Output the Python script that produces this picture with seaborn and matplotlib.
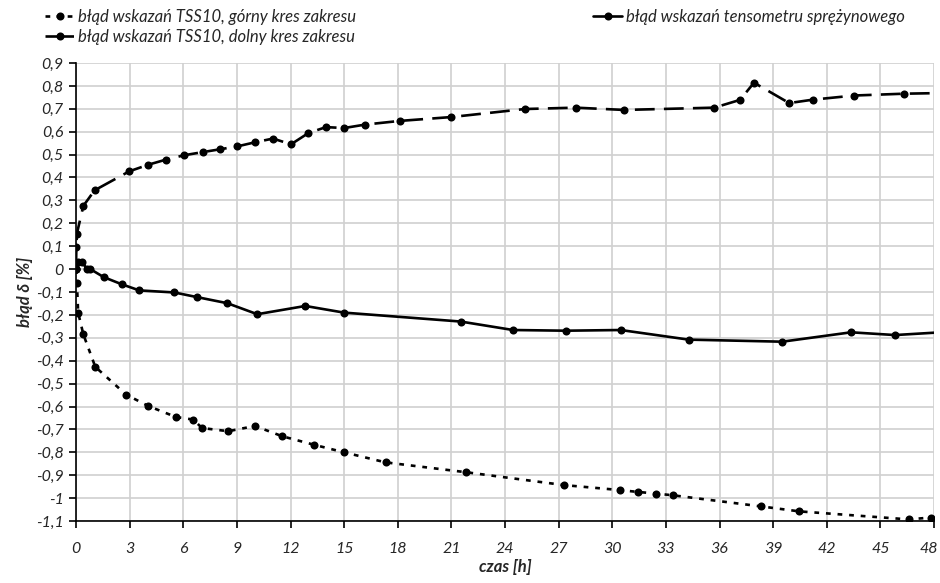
import numpy as np
import pandas as pd
import matplotlib
matplotlib.use("Agg")
import matplotlib.pyplot as plt
import matplotlib.transforms as mtransforms
import seaborn as sns
from matplotlib.ticker import FuncFormatter

# --- data ---
label_gorny = "błąd wskazań TSS10, górny kres zakresu"
label_dolny = "błąd wskazań TSS10, dolny kres zakresu"
label_tens = "błąd wskazań tensometru sprężynowego"

t_gorny = [0, 0.05, 0.12, 0.41, 1.08, 2.8, 4.05, 5.59, 6.56, 7.05, 8.52, 10.01, 11.54,
           13.31, 14.99, 17.32, 21.82, 27.28, 30.43, 31.42, 32.43, 33.42, 38.3, 40.47,
           46.58, 47.81]
y_gorny = [0, -0.06, -0.19, -0.285, -0.427, -0.548, -0.598, -0.646, -0.657, -0.694, -0.708,
           -0.685, -0.730, -0.767, -0.800, -0.844, -0.887, -0.943, -0.965, -0.973, -0.980,
           -0.988, -1.036, -1.058, -1.093, -1.085]

t_dolny = [0, 0.02, 0.05, 0.41, 1.04, 2.98, 4.05, 5.03, 6.04, 7.1, 8.04, 9.03, 10.03, 11.02,
           12.03, 13.0, 13.98, 15.0, 16.17, 18.1, 21.0, 25.1, 27.95, 30.67, 35.71, 37.15,
           37.93, 39.9, 41.23, 43.54, 46.34, 48.6]
y_dolny = [0, 0.097, 0.155, 0.276, 0.344, 0.427, 0.456, 0.478, 0.497, 0.511, 0.523, 0.536,
           0.554, 0.570, 0.545, 0.594, 0.620, 0.616, 0.631, 0.647, 0.664, 0.699, 0.705,
           0.695, 0.705, 0.739, 0.814, 0.725, 0.740, 0.758, 0.766, 0.769]

t_tens = [0, 0.1, 0.35, 0.6, 0.8, 1.55, 2.55, 3.54, 5.5, 6.75, 8.47, 10.14, 12.83, 14.99,
          21.52, 24.45, 27.4, 30.47, 34.28, 39.51, 43.36, 45.82, 48.6]
y_tens = [0, 0.033, 0.033, 0.0, 0.0, -0.035, -0.066, -0.093, -0.102, -0.122, -0.149, -0.197,
          -0.161, -0.190, -0.229, -0.266, -0.269, -0.266, -0.308, -0.317, -0.276, -0.288,
          -0.275]

x_ticks = list(range(0, 49, 3))
y_ticks = [round(v, 1) for v in np.arange(-1.1, 0.95, 0.1)]

# --- style ---
sns.set_style("white")
plt.rcParams['font.family'] = ['Lato', 'DejaVu Sans']

fig = plt.figure(figsize=(9.4, 5.83), dpi=100)
ax = fig.add_axes([76 / 940, 1 - 521 / 583, (934 - 76) / 940, (521 - 63) / 583])

lw = 1.9
ms = 5.8
d_g = pd.DataFrame({"t": t_gorny, "y": y_gorny})
d_d = pd.DataFrame({"t": t_dolny, "y": y_dolny})
d_t = pd.DataFrame({"t": t_tens, "y": y_tens})

sns.lineplot(data=d_g, x="t", y="y", ax=ax, sort=False, estimator=None, color="black",
             lw=lw, marker="o", markersize=ms, markeredgewidth=0, label=label_gorny,
             zorder=3)
ax.lines[-1].set_dashes([1.8, 2.6])
sns.lineplot(data=d_d, x="t", y="y", ax=ax, sort=False, estimator=None, color="black",
             lw=lw, marker="o", markersize=ms, markeredgewidth=0, label=label_dolny,
             zorder=3)
ax.lines[-1].set_dashes([7.5, 3.5])
sns.lineplot(data=d_t, x="t", y="y", ax=ax, sort=False, estimator=None, color="black",
             lw=lw, marker="o", markersize=ms, markeredgewidth=0, label=label_tens,
             zorder=3)

ax.set_xlim(0, 48)
ax.set_ylim(-1.1, 0.9)
ax.set_xticks(x_ticks)
ax.set_yticks(y_ticks)

def fmt(v, pos):
    s = f"{v:.1f}".rstrip("0").rstrip(".")
    if s in ("-0", ""):
        s = "0"
    return s.replace(".", ",")

ax.yaxis.set_major_formatter(FuncFormatter(fmt))
ax.xaxis.set_major_formatter(FuncFormatter(lambda v, p: f"{int(round(v))}"))

ax.grid(True, color="#d0d0d0", lw=1.2)
ax.set_axisbelow(True)
for s in ["top", "right"]:
    ax.spines[s].set_visible(False)
for s in ["left", "bottom"]:
    ax.spines[s].set_color("black")
    ax.spines[s].set_linewidth(1.2)

ax.tick_params(axis="both", direction="out", length=5, width=1.2, color="black",
               labelsize=11.5, bottom=True, left=True)
ax.tick_params(axis="x", pad=10)
ax.tick_params(axis="y", pad=4)
for lbl in ax.get_xticklabels() + ax.get_yticklabels():
    lbl.set_fontstyle("italic")

# keep the last x tick label inside the canvas
last = ax.get_xticklabels()[-1]
last.set_transform(last.get_transform() + mtransforms.ScaledTranslation(-5 / 100, 0, fig.dpi_scale_trans))

ax.set_xlabel("czas [h]", fontsize=12, fontweight="bold", fontstyle="italic", labelpad=2)
ax.set_ylabel("błąd δ [%]", fontsize=12, fontweight="bold", fontstyle="italic", labelpad=2)

leg = ax.legend(loc="upper left", bbox_to_anchor=(36 / 940, 1.0), bbox_transform=fig.transFigure,
                ncol=2, frameon=False, handlelength=1.75, handletextpad=0.25,
                columnspacing=14.2, borderaxespad=0.15, labelspacing=0.25,
                prop={"style": "italic", "size": 12})
# legend handle patterns like the reference ("- • -" and "—•—")
leg.get_lines()[0].set_dashes([1.8, 2.4])
leg.get_lines()[1].set_dashes([4.6, 1.6])

fig.savefig("out.png", dpi=100)
